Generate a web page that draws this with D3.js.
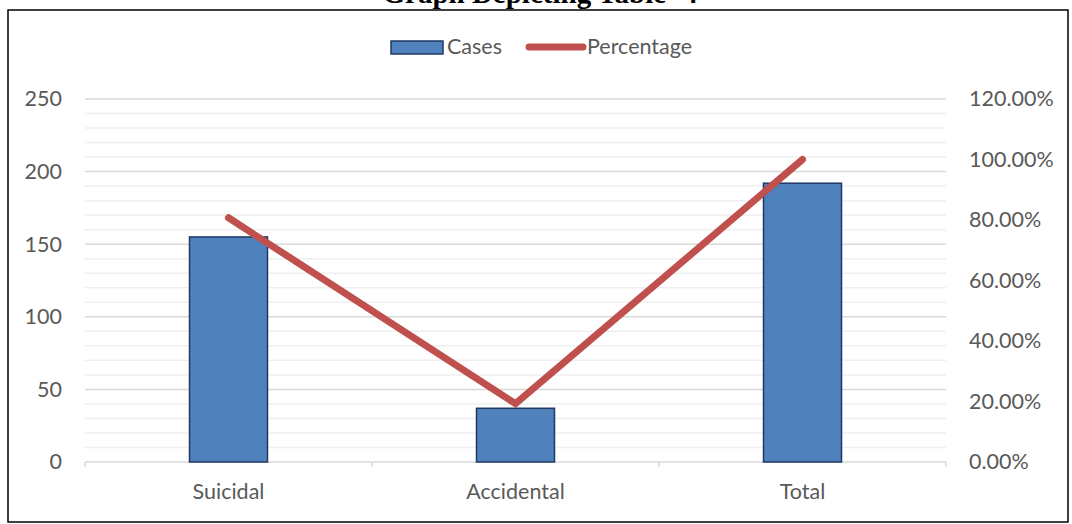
<!DOCTYPE html>
<html><head><meta charset="utf-8">
<script src="https://cdn.jsdelivr.net/npm/d3@7"></script>
<style>body{margin:0;background:#fff}svg{display:block}</style>
</head><body>
<svg id="c" width="1072" height="524"></svg>
<script>
const categories = ["Suicidal", "Accidental", "Total"];
const cases = [155, 37, 192];
const percentage = [0.8073, 0.1927, 1.0];
const leftTicks = [0, 50, 100, 150, 200, 250];
const rightTicks = [0, 0.2, 0.4, 0.6, 0.8, 1.0, 1.2];
const title = "Graph Depicting Table -4";
const seriesNames = ["Cases", "Percentage"];

const svg = d3.select("#c");
const m = {left: 85, right: 946, top: 99, bottom: 462};
const font = "Lato, 'Open Sans', sans-serif";
const fs = 21.5;

svg.append("rect").attr("x", 8).attr("y", 10).attr("width", 1060).attr("height", 512)
  .attr("fill", "#fff").attr("stroke", "#000").attr("stroke-width", 1.5);

svg.append("text").attr("x", 540).attr("y", 3).attr("text-anchor", "middle")
  .attr("font-family", "'Liberation Serif', 'Times New Roman', serif").attr("font-weight", "bold")
  .attr("font-size", 29).attr("fill", "#000").text(title);

const x = d3.scaleBand().domain(categories).range([m.left, m.right]);
const y = d3.scaleLinear().domain([0, 250]).range([m.bottom, m.top]);
const y2 = d3.scaleLinear().domain([0, 1.2]).range([m.bottom, m.top]);

const g = svg.append("g");
g.selectAll("line.minor").data(d3.range(0, 251, 10).filter(v => v % 50 !== 0)).join("line")
  .attr("x1", m.left).attr("x2", m.right).attr("y1", d => y(d)).attr("y2", d => y(d))
  .attr("stroke", "#EFEFEF").attr("stroke-width", 1.5);
g.selectAll("line.major").data(leftTicks.filter(v => v > 0)).join("line")
  .attr("x1", m.left).attr("x2", m.right).attr("y1", d => y(d)).attr("y2", d => y(d))
  .attr("stroke", "#D9D9D9").attr("stroke-width", 1.5);

const ax = svg.append("g").attr("transform", `translate(0,${m.bottom})`)
  .call(d3.axisBottom(x).tickSize(0).tickPadding(22));
ax.select(".domain").remove();
ax.selectAll("text").attr("font-family", font).attr("font-size", fs).attr("fill", "#595959");
const bounds = categories.map(c => x(c)).concat([m.right]);
svg.append("line").attr("x1", m.left).attr("x2", m.right).attr("y1", m.bottom).attr("y2", m.bottom)
  .attr("stroke", "#D9D9D9").attr("stroke-width", 1.5);
svg.selectAll("line.xt").data(bounds).join("line").attr("class", "xt")
  .attr("x1", d => d).attr("x2", d => d).attr("y1", m.bottom).attr("y2", m.bottom + 5)
  .attr("stroke", "#D9D9D9").attr("stroke-width", 1.5);

const yl = svg.append("g").attr("transform", `translate(${m.left},0)`)
  .call(d3.axisLeft(y).tickValues(leftTicks).tickSize(0).tickPadding(23));
yl.select(".domain").remove();
yl.selectAll("text").attr("font-family", font).attr("font-size", fs).attr("fill", "#595959");

const yr = svg.append("g").attr("transform", `translate(${m.right},0)`)
  .call(d3.axisRight(y2).tickValues(rightTicks).tickSize(0).tickPadding(23).tickFormat(d3.format(".2%")));
yr.select(".domain").remove();
yr.selectAll("text").attr("font-family", font).attr("font-size", fs).attr("fill", "#595959");

const bw = 78;
svg.selectAll("rect.bar").data(categories).join("rect").attr("class", "bar")
  .attr("x", d => x(d) + x.bandwidth() / 2 - bw / 2).attr("width", bw)
  .attr("y", (d, i) => y(cases[i])).attr("height", (d, i) => y(0) - y(cases[i]))
  .attr("fill", "#4F81BD").attr("stroke", "#1F3864").attr("stroke-width", 1.5);

const line = d3.line().x((d, i) => x(categories[i]) + x.bandwidth() / 2).y(d => y2(d));
svg.append("path").datum(percentage).attr("d", line).attr("fill", "none")
  .attr("stroke", "#C0504D").attr("stroke-width", 7).attr("stroke-linecap", "round").attr("stroke-linejoin", "miter");

const lg = svg.append("g");
lg.append("rect").attr("x", 391).attr("y", 41).attr("width", 52).attr("height", 13)
  .attr("fill", "#4F81BD").attr("stroke", "#1F3864").attr("stroke-width", 1.5);
lg.append("text").attr("x", 447).attr("y", 54).attr("font-family", font).attr("font-size", fs)
  .attr("fill", "#595959").text(seriesNames[0]);
lg.append("line").attr("x1", 529).attr("x2", 583).attr("y1", 47).attr("y2", 47)
  .attr("stroke", "#C0504D").attr("stroke-width", 7).attr("stroke-linecap", "round");
lg.append("text").attr("x", 587).attr("y", 54).attr("font-family", font).attr("font-size", fs)
  .attr("fill", "#595959").text(seriesNames[1]);
</script>
</body></html>
